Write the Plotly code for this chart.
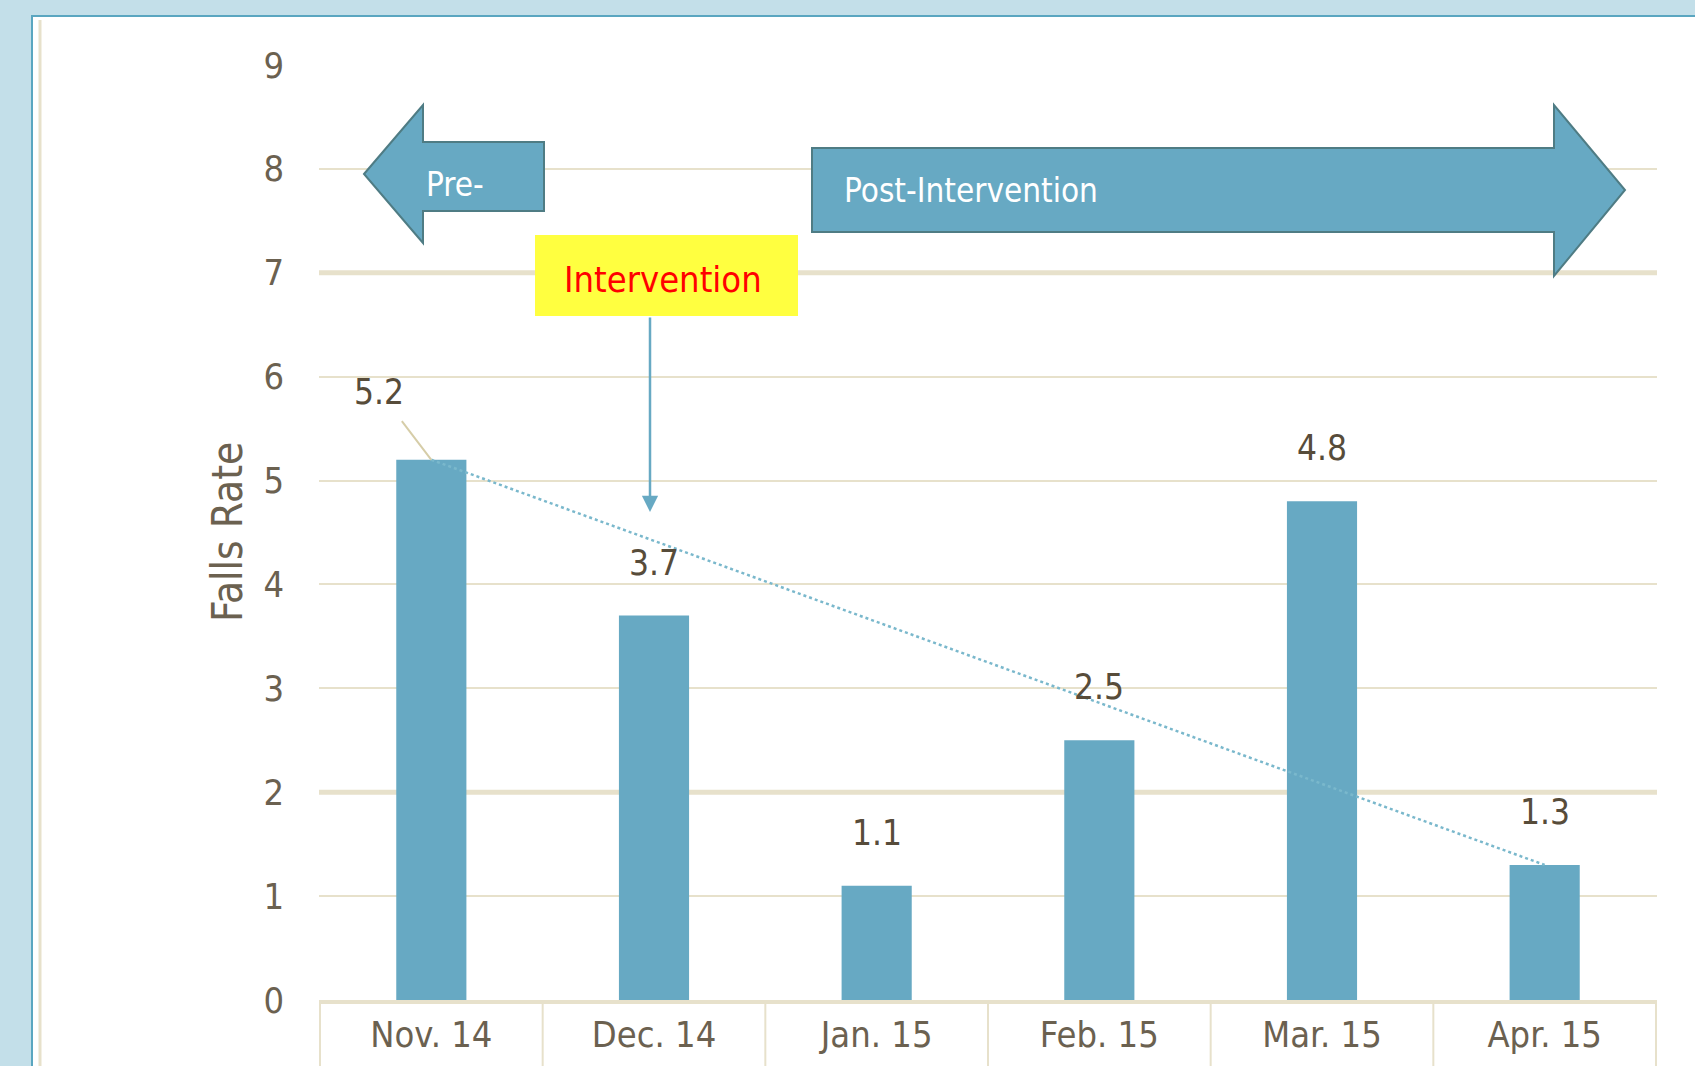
import plotly.graph_objects as go

# ---- data ----
months = ["Nov. 14", "Dec. 14", "Jan. 15", "Feb. 15", "Mar. 15", "Apr. 15"]
falls_rate = [5.2, 3.7, 1.1, 2.5, 4.8, 1.3]
y_ticks = [0, 1, 2, 3, 4, 5, 6, 7, 8, 9]

W, H = 1695, 1066
L, R, T, B = 319, 1657, 65, 1000  # plot area in pixels

def fx(px):
    return (px - L) / (R - L)

def fy(py):
    return (B - py) / (B - T)

BAR = "#67a9c3"
GRID = "#e7e1cb"
TXT = "#6b6150"
FONT = "DejaVu Sans Condensed, Liberation Sans Narrow, Arial Narrow, sans-serif"

fig = go.Figure()
fig.add_trace(go.Bar(x=months, y=falls_rate, marker=dict(color=BAR, line=dict(width=0)),
                     width=0.315, showlegend=False, hoverinfo="x+y"))
# connecting line from first to last month
fig.add_trace(go.Scatter(x=[months[0], months[-1]], y=[falls_rate[0], falls_rate[-1]],
                         mode="lines", line=dict(color="#7ab8cc", width=2.5, dash="dot"),
                         showlegend=False, hoverinfo="skip"))

shapes = []
# white panel with border
shapes.append(dict(type="rect", xref="paper", yref="paper", x0=fx(32), x1=fx(1700), y0=fy(16), y1=fy(1070),
                   fillcolor="white", line=dict(color="#5aa6c0", width=2), layer="below"))
shapes.append(dict(type="line", xref="paper", yref="paper", x0=fx(40), x1=fx(40), y0=fy(20), y1=fy(1070),
                   line=dict(color=GRID, width=3), layer="below"))
# thicker gridlines
for v in (2, 7):
    shapes.append(dict(type="line", xref="paper", yref="y", x0=0, x1=1, y0=v, y1=v,
                       line=dict(color=GRID, width=5), layer="below"))
# category separators below axis
for k in range(len(months) + 1):
    shapes.append(dict(type="line", xref="x", yref="paper", x0=k - 0.5, x1=k - 0.5, y0=0, y1=fy(1070),
                       line=dict(color=GRID, width=2)))

def path(pts):
    return "M " + " L ".join(f"{fx(x)},{fy(y)}" for x, y in pts) + " Z"

ARROW_LINE = "#4f7c84"
# Pre- arrow (left)
shapes.append(dict(type="path", xref="paper", yref="paper",
                   path=path([(364, 174), (423, 105), (423, 142), (544, 142), (544, 211), (423, 211), (423, 243)]),
                   fillcolor=BAR, line=dict(color=ARROW_LINE, width=2)))
# Post-Intervention arrow (right)
shapes.append(dict(type="path", xref="paper", yref="paper",
                   path=path([(812, 148), (1554, 148), (1554, 105), (1625, 190), (1554, 276), (1554, 232), (812, 232)]),
                   fillcolor=BAR, line=dict(color=ARROW_LINE, width=2)))
# Intervention box
shapes.append(dict(type="rect", xref="paper", yref="paper", x0=fx(535), x1=fx(798), y0=fy(235), y1=fy(316),
                   fillcolor="#ffff40", line=dict(width=0)))

annotations = []
annotations.append(dict(xref="paper", yref="paper", x=fx(424), y=fy(184), text="Pre-", showarrow=False,
                        font=dict(family=FONT, size=33, color="white"), xanchor="left", yanchor="middle"))
annotations.append(dict(xref="paper", yref="paper", x=fx(842), y=fy(190), text="Post-Intervention", showarrow=False,
                        font=dict(family=FONT, size=33, color="white"), xanchor="left", yanchor="middle"))
annotations.append(dict(xref="paper", yref="paper", x=fx(663), y=fy(279), text="Intervention", showarrow=False,
                        font=dict(family=FONT, size=36, color="#ff0000"), xanchor="center", yanchor="middle"))
# intervention pointer arrow
annotations.append(dict(xref="paper", yref="paper", x=fx(650), y=fy(512), ax=0, ay=-(512 - 316),
                        text="", showarrow=True, arrowhead=2, arrowsize=1.3,
                        arrowwidth=2.5, arrowcolor=BAR, standoff=0, startstandoff=0))
# y axis title
annotations.append(dict(xref="paper", yref="paper", x=fx(227), y=fy(532), text="Falls Rate", showarrow=False,
                        textangle=-90, font=dict(family=FONT, size=42, color=TXT), xanchor="center", yanchor="middle"))
# data labels
for i, (m, v) in enumerate(zip(months, falls_rate)):
    if i == 0:
        annotations.append(dict(x=m, y=v, text=f"{v}", showarrow=True, ax=-52, ay=-68, arrowhead=0,
                                arrowwidth=2, arrowcolor="#d6cda8", standoff=0, startstandoff=10,
                                font=dict(family=FONT, size=35, color="#574c3a")))
    else:
        annotations.append(dict(x=m, y=v, text=f"{v}", showarrow=False, yshift=53,
                                font=dict(family=FONT, size=35, color="#574c3a"),
                                xanchor="center", yanchor="middle"))

fig.update_layout(
    width=W, height=H,
    margin=dict(l=L, r=W - R, t=T, b=H - B, autoexpand=False),
    paper_bgcolor="#c3dfe9",
    plot_bgcolor="rgba(0,0,0,0)",
    shapes=shapes,
    annotations=annotations,
    xaxis=dict(type="category", showgrid=False, showline=True, linecolor=GRID, linewidth=4,
               tickfont=dict(family=FONT, size=36, color=TXT), ticks="", ticklabelstandoff=0,
               fixedrange=True),
    yaxis=dict(range=[0, 9], tickvals=y_ticks, showgrid=True, gridcolor=GRID, gridwidth=2,
               zeroline=False, showline=False, ticks="", ticklabelstandoff=34,
               tickfont=dict(family=FONT, size=36, color=TXT), fixedrange=True),
)

fig.write_html("out.html", config={"displayModeBar": False},
               post_script="document.body.style.margin='0';document.body.style.padding='0';")
